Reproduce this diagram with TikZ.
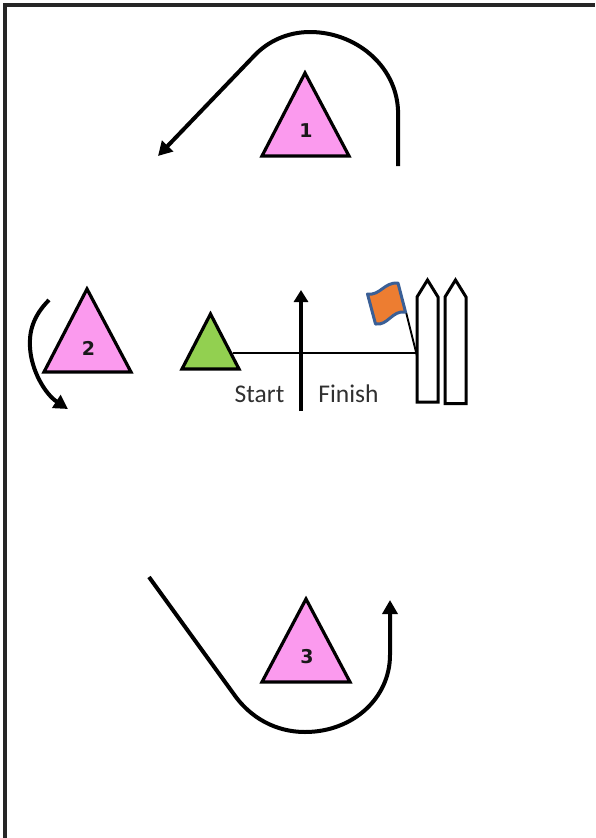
\documentclass[tikz,border=0pt]{standalone}
\usepackage{fontspec}
\setmainfont{Carlito}
\newfontfamily\numfont{DejaVu Sans}
\usetikzlibrary{arrows.meta}
\definecolor{conepink}{HTML}{FB9AEE}
\definecolor{conegreen}{HTML}{92D050}
\definecolor{flagorange}{HTML}{ED7D31}
\definecolor{flagblue}{HTML}{3A5F96}
\definecolor{txtgrey}{HTML}{303030}
\tikzset{
  x=1pt,y=-1pt,
  cone/.style={draw=black,line width=3.2pt,line join=miter,fill=conepink},
  greencone/.style={cone,fill=conegreen},
  conenum/.style={font=\numfont\bfseries\fontsize{19}{19}\selectfont,text=black!90,inner sep=0pt},
  route/.style={draw=black,line width=4pt,line cap=butt},
  routearrow/.style={route,-{Triangle[length=14pt,width=15pt]}},
  post/.style={draw=black,line width=3pt,fill=white,line join=miter},
  thin line/.style={draw=black,line width=1.9pt},
  zone/.style={font=\fontsize{25.5}{26}\selectfont,text=txtgrey,inner sep=0pt},
}
\begin{document}
\begin{tikzpicture}
\useasboundingbox (0,0) rectangle (595,838);
% frame: left and top edges only
\draw[line width=3.5pt,black!85] (5,838) -- (5,5) -- (595,5);

% finish posts
\draw[post] (417,402) -- (417,297) -- (427.5,280) -- (438,297) -- (438,402) -- cycle;
\draw[post] (445,403.5) -- (445,297) -- (455.5,280) -- (466,297) -- (466,403.5) -- cycle;

% start line and flag
\coordinate (lineend) at (416,353);
\coordinate (polebase) at (417,356);
\coordinate (poletop) at (406,312);
\draw[thin line] (233,353) -- (lineend);
\draw[thin line] (poletop) -- (polebase);
\draw[draw=flagblue,line width=3pt,fill=flagorange,line join=round]
  (367.5,294) .. controls (380,296) and (384,282) .. (398,283)
  -- (405.5,312)
  .. controls (392,310) and (388,326) .. (375.5,324)
  -- cycle;

% cones
\draw[cone] (305,73) -- (349,156) -- (262,156) -- cycle;
\draw[cone] (87,289) -- (131,372) -- (44,372) -- cycle;
\draw[cone] (306,599) -- (350,682) -- (262,682) -- cycle;
\draw[greencone] (210.5,314) -- (239,369) -- (182,369) -- cycle;
\node[conenum] (n1) at (306,131) {1};
\node[conenum] (n2) at (88.5,348) {2};
\node[conenum] (n3) at (307,657) {3};

% centre arrow and labels
\coordinate (cstart) at (301,411);
\coordinate (cend) at (301,290);
\draw[route,-{Triangle[length=12pt,width=14pt]}] (cstart) -- (cend);
\node[zone] (start) at (259.5,394) {Start};
\node[zone] (finish) at (348.5,394) {Finish};

% routes
\coordinate (r1a) at (398,166);
\coordinate (r1b) at (158,156);
\draw[routearrow] (r1a) -- (398,110)
  .. controls (396,65) and (355,32) .. (310,32)
  .. controls (288,32) and (268,41) .. (254,56)
  -- (r1b);
\coordinate (r2a) at (49,300);
\coordinate (r2b) at (68,409);
\draw[routearrow] (r2a) .. controls (33,316) and (29,332) .. (30,347)
  .. controls (31,370) and (45,394) .. (r2b);
\coordinate (r3a) at (149,577);
\coordinate (r3b) at (390,600);
\draw[routearrow] (r3a) -- (233,693)
  .. controls (250,718) and (276,732) .. (305,732)
  .. controls (353,732) and (390,698) .. (390,655)
  -- (r3b);
\end{tikzpicture}
\end{document}
